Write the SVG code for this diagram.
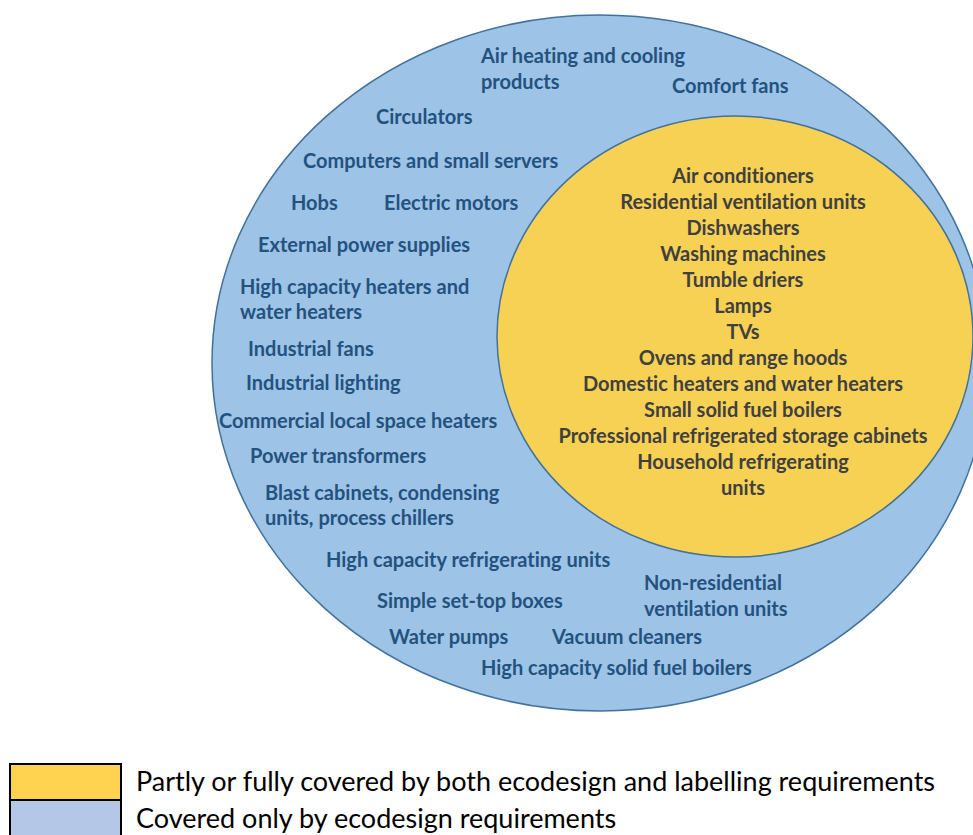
<svg xmlns="http://www.w3.org/2000/svg" width="973" height="835" viewBox="0 0 973 835">
  <style>
    text { font-variant-ligatures: none; }
    .outer-set { fill: #9DC3E6; stroke: #41719C; stroke-width: 1.5; }
    .inner-set { fill: #F7D154; stroke: #41719C; stroke-width: 1.5; }
    .lbl-out { font-family: Lato, "Liberation Sans", sans-serif; font-weight: bold; font-size: 20px; fill: #24527F; }
    .lbl-in { font-family: Lato, "Liberation Sans", sans-serif; font-weight: bold; font-size: 20px; fill: #404040; text-anchor: middle; }
    .legend-box { stroke: #000; stroke-width: 2; }
    .legend-txt { font-family: Lato, "Liberation Sans", sans-serif; font-size: 27px; fill: #000; }
  </style>
  <rect width="973" height="835" fill="#fff"/>

  <!-- ecodesign-only set -->
  <g id="ecodesign">
    <ellipse class="outer-set" cx="600" cy="363" rx="388" ry="348"/>
    <text class="lbl-out" x="481" y="63">Air heating and cooling</text>
    <text class="lbl-out" x="481" y="89">products</text>
    <text class="lbl-out" x="672" y="93">Comfort fans</text>
    <text class="lbl-out" x="376" y="124">Circulators</text>
    <text class="lbl-out" x="303" y="168">Computers and small servers</text>
    <text class="lbl-out" x="291" y="210">Hobs</text>
    <text class="lbl-out" x="384" y="210">Electric motors</text>
    <text class="lbl-out" x="258" y="252">External power supplies</text>
    <text class="lbl-out" x="240" y="294">High capacity heaters and</text>
    <text class="lbl-out" x="240" y="319">water heaters</text>
    <text class="lbl-out" x="248" y="356">Industrial fans</text>
    <text class="lbl-out" x="246" y="390">Industrial lighting</text>
    <text class="lbl-out" x="219" y="428">Commercial local space heaters</text>
    <text class="lbl-out" x="250" y="463">Power transformers</text>
    <text class="lbl-out" x="265" y="500">Blast cabinets, condensing</text>
    <text class="lbl-out" x="265" y="525">units, process chillers</text>
    <text class="lbl-out" x="326" y="567">High capacity refrigerating units</text>
    <text class="lbl-out" x="644" y="590">Non-residential</text>
    <text class="lbl-out" x="644" y="616">ventilation units</text>
    <text class="lbl-out" x="377" y="608">Simple set-top boxes</text>
    <text class="lbl-out" x="389" y="644">Water pumps</text>
    <text class="lbl-out" x="552" y="644">Vacuum cleaners</text>
    <text class="lbl-out" x="481" y="675">High capacity solid fuel boilers</text>
  </g>

  <!-- ecodesign + labelling set -->
  <g id="ecodesign-labelling">
    <ellipse class="inner-set" cx="735" cy="336.5" rx="238" ry="220.5"/>
    <text class="lbl-in" x="743" y="183">Air conditioners</text>
    <text class="lbl-in" x="743" y="209">Residential ventilation units</text>
    <text class="lbl-in" x="743" y="235">Dishwashers</text>
    <text class="lbl-in" x="743" y="261">Washing machines</text>
    <text class="lbl-in" x="743" y="287">Tumble driers</text>
    <text class="lbl-in" x="743" y="313">Lamps</text>
    <text class="lbl-in" x="743" y="339">TVs</text>
    <text class="lbl-in" x="743" y="365">Ovens and range hoods</text>
    <text class="lbl-in" x="743" y="391">Domestic heaters and water heaters</text>
    <text class="lbl-in" x="743" y="417">Small solid fuel boilers</text>
    <text class="lbl-in" x="743" y="443">Professional refrigerated storage cabinets</text>
    <text class="lbl-in" x="743" y="469">Household refrigerating</text>
    <text class="lbl-in" x="743" y="495">units</text>
  </g>

  <!-- legend -->
  <g id="legend">
    <rect class="legend-box" x="10" y="764" width="111" height="36" fill="#FFD34F"/>
    <rect class="legend-box" x="10" y="800" width="111" height="36" fill="#B4C7E7"/>
    <text class="legend-txt" x="136" y="791">Partly or fully covered by both ecodesign and labelling requirements</text>
    <text class="legend-txt" x="136" y="828">Covered only by ecodesign requirements</text>
  </g>
</svg>
